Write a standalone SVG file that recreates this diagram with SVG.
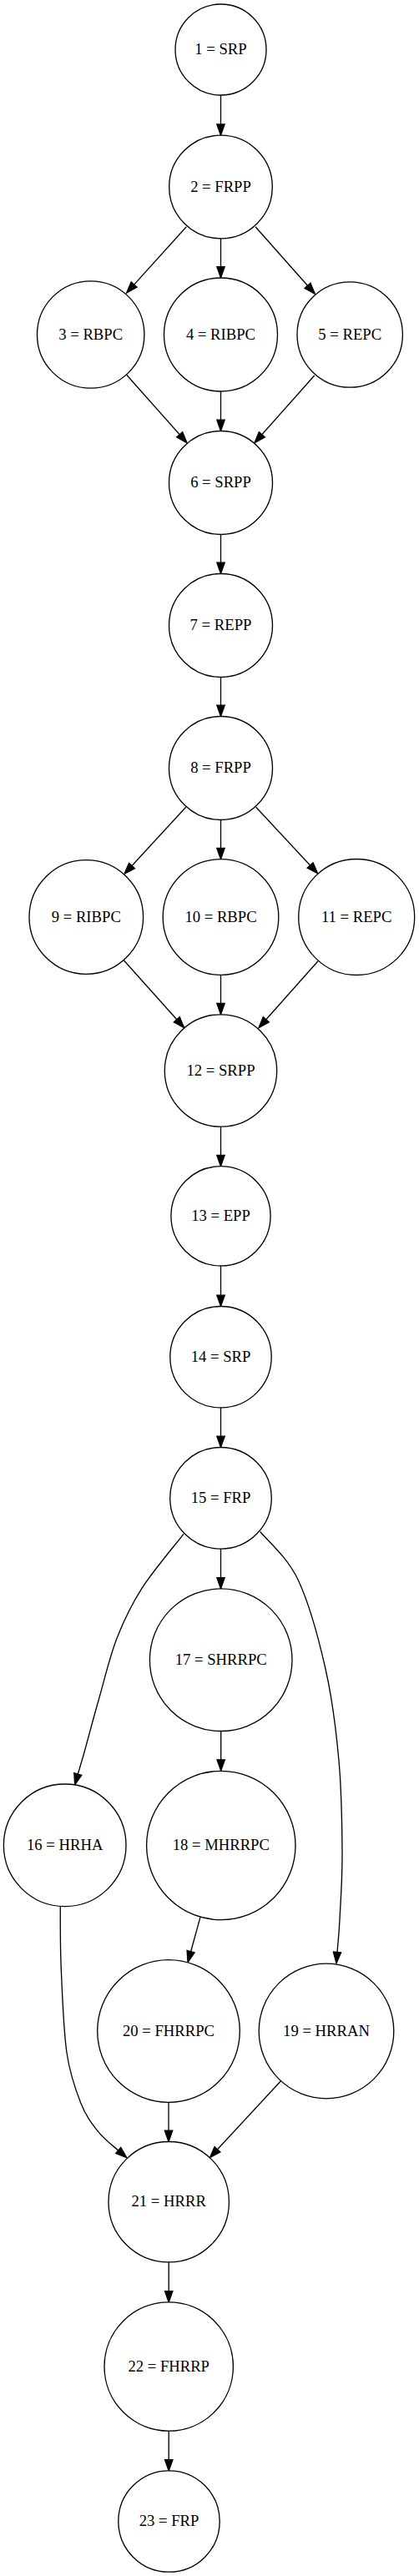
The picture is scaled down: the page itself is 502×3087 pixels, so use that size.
<svg xmlns="http://www.w3.org/2000/svg" width="502" height="3087" viewBox="0 0 502 3087">
<style>
.node ellipse{fill:#fff;stroke:#000;stroke-width:1.33}
.node text{font-family:"Liberation Serif","Times New Roman",serif;font-size:18.67px;text-anchor:middle;fill:#000}
.edge{fill:none;stroke:#000;stroke-width:1.33;marker-end:url(#arr)}
</style>
<defs>
<marker id="arr" markerUnits="userSpaceOnUse" markerWidth="20" markerHeight="20" refX="0" refY="0" orient="auto" overflow="visible">
<path d="M0,-4.67 L13.3,0 L0,4.67 Z" fill="#000" stroke="#000" stroke-width="1.33"/>
</marker>
</defs>
<rect width="502" height="3087" fill="#fff"/>
<g id="edges">
<path class="edge" d="M264.5,114 L264.5,148.9"/>
<path class="edge" d="M223.3,271.7 L160.6,341.1"/>
<path class="edge" d="M264.5,285.8 L264.5,319.7"/>
<path class="edge" d="M306,271.7 L368.5,342.3"/>
<path class="edge" d="M151.7,449.3 L215.2,520.8"/>
<path class="edge" d="M264.5,469 L264.5,503.2"/>
<path class="edge" d="M376.7,450 L313.8,520.8"/>
<path class="edge" d="M264.5,640.5 L264.5,674.2"/>
<path class="edge" d="M264.5,811.5 L264.5,845.2"/>
<path class="edge" d="M222.7,967.3 L158,1037.5"/>
<path class="edge" d="M264.5,982.5 L264.5,1016.4"/>
<path class="edge" d="M306.7,967.3 L371.6,1037"/>
<path class="edge" d="M148.3,1150.7 L211.8,1221.8"/>
<path class="edge" d="M264.5,1168.3 L264.5,1202.5"/>
<path class="edge" d="M381,1151.7 L318.8,1221.8"/>
<path class="edge" d="M264.5,1350.2 L264.5,1384.4"/>
<path class="edge" d="M264.5,1516.9 L264.5,1552.2"/>
<path class="edge" d="M264.5,1686.9 L264.5,1721.2"/>
<path class="edge" d="M264.5,1856.1 L264.5,1890.6"/>
<path class="edge" d="M220,1838.3 C211.7,1849.1 183.3,1882.5 170,1903.3 C156.7,1924.1 148.6,1941.1 140,1963.3 C131.4,1985.5 125,2013.4 118.3,2036.7 C111.6,2060 104.2,2088.5 100,2103.3 C95.8,2118.1 94.5,2121.8 93.3,2126"/>
<path class="edge" d="M311.7,1835.5 C319.3,1845.1 344,1865.6 357,1893 C370,1920.4 381.8,1963.8 390,2000 C398.2,2036.2 402.7,2073.3 406,2110 C409.3,2146.7 409.8,2188.3 410,2220 C410.2,2251.7 408,2280.1 407,2300 C406,2319.9 404.5,2332.8 404,2339.4"/>
<path class="edge" d="M264.7,2074.4 L264.7,2108.8"/>
<path class="edge" d="M240,2297.4 L228.6,2338.7"/>
<path class="edge" d="M72.3,2284.5 C72.3,2297.1 72,2330.75 73.3,2360 C74.6,2389.25 76.1,2433.3 80,2460 C83.9,2486.7 90.6,2504.45 96.7,2520 C102.8,2535.55 109.2,2543.8 116.7,2553.3 C124.2,2562.8 133.5,2570 141.7,2577"/>
<path class="edge" d="M202,2519.3 L202,2553.2"/>
<path class="edge" d="M336.7,2493.5 L260.5,2575.8"/>
<path class="edge" d="M202.2,2710.9 L202.2,2745.6"/>
<path class="edge" d="M202.2,2913.2 L202.2,2947.7"/>
</g>
<g id="n1" class="node"><ellipse cx="264.5" cy="59.5" rx="54.5" ry="54.5"/><text x="264.5" y="65.1">1 = SRP</text></g>
<g id="n2" class="node"><ellipse cx="264.5" cy="224" rx="61.8" ry="61.8"/><text x="264.5" y="229.6">2 = FRPP</text></g>
<g id="n3" class="node"><ellipse cx="108.7" cy="401" rx="64.2" ry="64.2"/><text x="108.7" y="406.6">3 = RBPC</text></g>
<g id="n4" class="node"><ellipse cx="264.5" cy="401" rx="68" ry="68"/><text x="264.5" y="406.6">4 = RIBPC</text></g>
<g id="n5" class="node"><ellipse cx="419.2" cy="401" rx="63.2" ry="63.2"/><text x="419.2" y="406.6">5 = REPC</text></g>
<g id="n6" class="node"><ellipse cx="264.5" cy="578.5" rx="62" ry="62"/><text x="264.5" y="584.1">6 = SRPP</text></g>
<g id="n7" class="node"><ellipse cx="264.5" cy="749.5" rx="62" ry="62"/><text x="264.5" y="755.1">7 = REPP</text></g>
<g id="n8" class="node"><ellipse cx="264.5" cy="920.5" rx="62" ry="62"/><text x="264.5" y="926.1">8 = FRPP</text></g>
<g id="n9" class="node"><ellipse cx="103.3" cy="1099" rx="68.3" ry="68.3"/><text x="103.3" y="1104.6">9 = RIBPC</text></g>
<g id="n10" class="node"><ellipse cx="264.5" cy="1099" rx="69.3" ry="69.3"/><text x="264.5" y="1104.6">10 = RBPC</text></g>
<g id="n11" class="node"><ellipse cx="427.2" cy="1099" rx="69.5" ry="69.5"/><text x="427.2" y="1104.6">11 = REPC</text></g>
<g id="n12" class="node"><ellipse cx="264.5" cy="1283" rx="67.2" ry="67.2"/><text x="264.5" y="1288.6">12 = SRPP</text></g>
<g id="n13" class="node"><ellipse cx="264.5" cy="1457.3" rx="59.6" ry="59.6"/><text x="264.5" y="1462.9">13 = EPP</text></g>
<g id="n14" class="node"><ellipse cx="264.5" cy="1626.2" rx="60.7" ry="60.7"/><text x="264.5" y="1631.8">14 = SRP</text></g>
<g id="n15" class="node"><ellipse cx="264.5" cy="1795.3" rx="60.8" ry="60.8"/><text x="264.5" y="1800.9">15 = FRP</text></g>
<g id="n17" class="node"><ellipse cx="264.7" cy="1989.2" rx="85.3" ry="85.3"/><text x="264.7" y="1994.8">17 = SHRRPC</text></g>
<g id="n16" class="node"><ellipse cx="77.7" cy="2211.3" rx="73.3" ry="73.3"/><text x="77.7" y="2216.9">16 = HRHA</text></g>
<g id="n18" class="node"><ellipse cx="264.8" cy="2211.5" rx="89.2" ry="89.2"/><text x="264.8" y="2217.1">18 = MHRRPC</text></g>
<g id="n20" class="node"><ellipse cx="202" cy="2434" rx="85.3" ry="85.3"/><text x="202" y="2439.6">20 = FHRRPC</text></g>
<g id="n19" class="node"><ellipse cx="391" cy="2434" rx="80.8" ry="80.8"/><text x="391" y="2439.6">19 = HRRAN</text></g>
<g id="n21" class="node"><ellipse cx="202.2" cy="2638.7" rx="72.2" ry="72.2"/><text x="202.2" y="2644.3">21 = HRRR</text></g>
<g id="n22" class="node"><ellipse cx="202.2" cy="2836" rx="77.2" ry="77.2"/><text x="202.2" y="2841.6">22 = FHRRP</text></g>
<g id="n23" class="node"><ellipse cx="202.5" cy="3021.5" rx="60.7" ry="60.7"/><text x="202.5" y="3027.1">23 = FRP</text></g>
</svg>
